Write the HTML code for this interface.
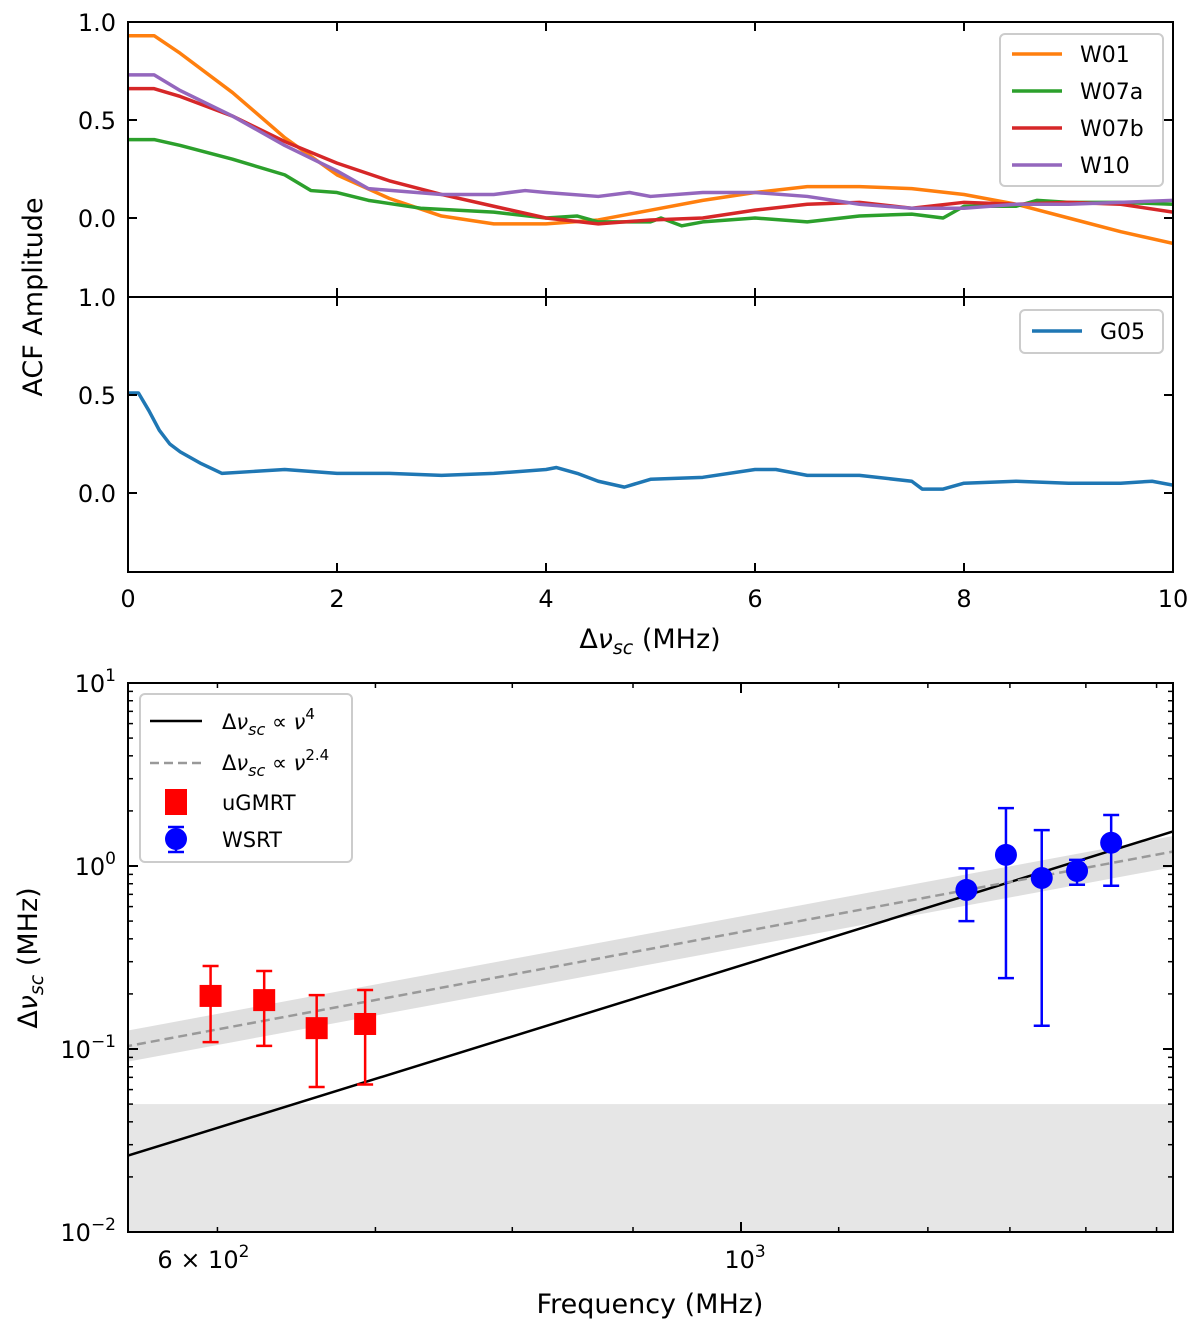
<!DOCTYPE html>
<html><head><meta charset="utf-8"><style>
body{margin:0;background:#fff;}
svg{display:block;font-family:"DejaVu Sans","Liberation Sans",sans-serif;}
</style></head><body>
<svg id="fig" width="1200" height="1327" viewBox="0 0 1200 1327"></svg>
<script>
// ---- data ----
const w01X=[0,0.25,0.5,1,1.5,2,2.5,3,3.5,4,4.5,5,5.5,6,6.5,7,7.5,8,8.5,9,9.5,10];
const w01Y=[0.93,0.93,0.84,0.64,0.41,0.22,0.10,0.01,-0.03,-0.03,-0.01,0.04,0.09,0.13,0.16,0.16,0.15,0.12,0.07,0.0,-0.07,-0.13];
const w07aX=[0,0.25,0.5,1,1.5,1.75,2,2.3,2.8,3.5,4,4.3,4.5,5,5.1,5.3,5.5,6,6.5,7,7.5,7.8,8,8.5,8.7,9,9.5,10];
const w07aY=[0.40,0.40,0.37,0.30,0.22,0.14,0.13,0.09,0.05,0.03,0.0,0.01,-0.02,-0.02,0.0,-0.04,-0.02,0.0,-0.02,0.01,0.02,0.0,0.06,0.06,0.09,0.08,0.08,0.07];
const w07bX=[0,0.25,0.5,1,1.5,2,2.5,3,3.5,4,4.5,5,5.5,6,6.5,7,7.5,8,8.5,9,9.5,10];
const w07bY=[0.66,0.66,0.62,0.52,0.39,0.28,0.19,0.12,0.06,0.0,-0.03,-0.01,0.0,0.04,0.07,0.08,0.05,0.08,0.07,0.08,0.07,0.03];
const w10X=[0,0.25,0.5,1,1.5,2,2.3,3,3.5,3.8,4,4.5,4.8,5,5.5,6,6.5,7,7.5,8,8.5,9,9.5,10];
const w10Y=[0.73,0.73,0.65,0.52,0.37,0.24,0.15,0.12,0.12,0.14,0.13,0.11,0.13,0.11,0.13,0.13,0.11,0.07,0.05,0.05,0.07,0.07,0.08,0.09];
const g05X=[0,0.1,0.2,0.3,0.4,0.5,0.7,0.9,1.2,1.5,2,2.5,3,3.5,4,4.1,4.3,4.5,4.75,5,5.5,6,6.2,6.5,7,7.5,7.6,7.8,8,8.5,9,9.5,9.8,10];
const g05Y=[0.51,0.51,0.42,0.32,0.25,0.21,0.15,0.10,0.11,0.12,0.10,0.10,0.09,0.10,0.12,0.13,0.10,0.06,0.03,0.07,0.08,0.12,0.12,0.09,0.09,0.06,0.02,0.02,0.05,0.06,0.05,0.05,0.06,0.04];
const gmrtF=[596,628,661,693];
const gmrtV=[0.195,0.185,0.130,0.137];
const gmrtHi=[0.284,0.267,0.197,0.21];
const gmrtLo=[0.109,0.104,0.062,0.064];
const wsrtF=[1246,1295,1341,1388,1435];
const wsrtV=[0.74,1.15,0.86,0.94,1.34];
const wsrtHi=[0.97,2.07,1.57,1.08,1.9];
const wsrtLo=[0.50,0.244,0.134,0.79,0.78];
const linTicks=[0,2,4,6,8,10];
const yTicksTop=[0.0,0.5,1.0];
const fit4Norm=0.286, fit4Pow=4;
const fit24Norm=0.436, fit24Pow=2.4;
const bandDex=0.085;
const limitV=0.05;

const NS="http://www.w3.org/2000/svg";
const svg=document.getElementById('fig');
function el(tag,attrs,parent){const e=document.createElementNS(NS,tag);for(const k in attrs)e.setAttribute(k,attrs[k]);(parent||svg).appendChild(e);return e;}
function txt(s,x,y,size,anchor,parent){const t=el('text',{x:x,y:y,'font-size':size,'text-anchor':anchor||'middle',fill:'#000'},parent);t.innerHTML=s;return t;}

const L=128,R=1173;
const xs=v=>L+(v/10)*(R-L);
const yTop=v=>218-v*196;
const yMid=v=>493-v*196;
const xf=f=>741+(Math.log10(f)-3)*2360;
const yl=v=>866-Math.log10(v)*183;

function poly(X,Y,ys,color,name){
  const p=el('polyline',{points:X.map((x,i)=>xs(x)+','+ys(Y[i])).join(' '),fill:'none',stroke:color,'stroke-width':3.5,'stroke-linejoin':'round'});
  
  
}
// clip paths
const defs=el('defs',{});
const c1=el('clipPath',{id:'c1'},defs);el('rect',{x:L,y:22,width:R-L,height:275},c1);
const c2=el('clipPath',{id:'c2'},defs);el('rect',{x:L,y:297,width:R-L,height:275},c2);
const c3=el('clipPath',{id:'c3'},defs);el('rect',{x:L,y:683,width:R-L,height:549},c3);

// ---- top panel ----
const gTop=el('g',{'clip-path':'url(#c1)'});

[[w01X,w01Y,'#ff7f0e','line-w01'],[w07aX,w07aY,'#2ca02c','line-w07a'],[w07bX,w07bY,'#d62728','line-w07b'],[w10X,w10Y,'#9467bd','line-w10']].forEach(s=>{
  const p=el('polyline',{points:s[0].map((x,i)=>xs(x)+','+yTop(s[1][i])).join(' '),fill:'none',stroke:s[2],'stroke-width':3.5,'stroke-linejoin':'round'},gTop);
  
  
});
const gMid=el('g',{'clip-path':'url(#c2)'});
const pg=el('polyline',{points:g05X.map((x,i)=>xs(x)+','+yMid(g05Y[i])).join(' '),fill:'none',stroke:'#1f77b4','stroke-width':3.5,'stroke-linejoin':'round'},gMid);



// frames & ticks for linear panels
function linFrame(top,bot,ys,name,showX){
  const r=el('rect',{x:L,y:top,width:R-L,height:bot-top,fill:'none',stroke:'#000','stroke-width':2});
  
  
  linTicks.forEach(t=>{
    el('line',{x1:xs(t),x2:xs(t),y1:bot,y2:bot-9,stroke:'#000','stroke-width':2});
    el('line',{x1:xs(t),x2:xs(t),y1:top,y2:top+9,stroke:'#000','stroke-width':2});
    if(showX){const lb=txt(String(t),xs(t),bot+35,24);}
  });
  yTicksTop.forEach(t=>{
    el('line',{x1:L,x2:L+9,y1:ys(t),y2:ys(t),stroke:'#000','stroke-width':2});
    el('line',{x1:R,x2:R-9,y1:ys(t),y2:ys(t),stroke:'#000','stroke-width':2});
    const lb=txt(t.toFixed(1),L-12,ys(t)+9,24,'end');
    
    
  });
}
linFrame(22,297,yTop,'top-panel-frame',false);
linFrame(297,572,yMid,'middle-panel-frame',true);

const yl1=txt('ACF Amplitude',0,0,27);
yl1.setAttribute('transform','translate(42,297) rotate(-90)');

const xl1=txt('Δ<tspan font-style="italic">ν</tspan><tspan font-style="italic" font-size="19" dy="6">sc</tspan><tspan dy="-6"> (MHz)</tspan>',650,648,27);


// legends
function legendBox(x,y,w,h,name){const r=el('rect',{x:x,y:y,width:w,height:h,rx:5,fill:'#fff','fill-opacity':0.8,stroke:'#ccc','stroke-width':2});}
legendBox(1000,34,163,152,'top-legend');
[['W01','#ff7f0e',54],['W07a','#2ca02c',91],['W07b','#d62728',128],['W10','#9467bd',165]].forEach(e=>{
  el('line',{x1:1012,x2:1062,y1:e[2],y2:e[2],stroke:e[1],'stroke-width':3.5});
  const t=txt(e[0],1080,e[2]+8,22,'start');
});
legendBox(1020,310,143,43,'middle-legend');
el('line',{x1:1032,x2:1082,y1:331,y2:331,stroke:'#1f77b4','stroke-width':3.5});
const tg=txt('G05',1100,339,22,'start');

// ---- bottom panel ----
const g3=el('g',{'clip-path':'url(#c3)'});
const fmin=540,fmax=1540;
const lim=el('rect',{x:L,y:yl(limitV),width:R-L,height:1232-yl(limitV),fill:'#e6e6e6'},g3);

const bandPts=[];
for(let i=0;i<=20;i++){const f=fmin*Math.pow(fmax/fmin,i/20);bandPts.push(xf(f)+','+yl(fit24Norm*Math.pow(f/1000,fit24Pow)*Math.pow(10,bandDex)));}
for(let i=20;i>=0;i--){const f=fmin*Math.pow(fmax/fmin,i/20);bandPts.push(xf(f)+','+yl(fit24Norm*Math.pow(f/1000,fit24Pow)/Math.pow(10,bandDex)));}
const band=el('polygon',{points:bandPts.join(' '),fill:'#d9d9d9','fill-opacity':0.85},g3);

const l4=el('line',{x1:xf(fmin),y1:yl(fit4Norm*Math.pow(fmin/1000,fit4Pow)),x2:xf(fmax),y2:yl(fit4Norm*Math.pow(fmax/1000,fit4Pow)),stroke:'#000','stroke-width':2.5},g3);

const l24=el('line',{x1:xf(fmin),y1:yl(fit24Norm*Math.pow(fmin/1000,fit24Pow)),x2:xf(fmax),y2:yl(fit24Norm*Math.pow(fmax/1000,fit24Pow)),stroke:'#999','stroke-width':2.5,'stroke-dasharray':'9,5'},g3);

function errbar(x,yv,hi,lo,color){
  el('line',{x1:x,x2:x,y1:yl(hi),y2:yl(lo),stroke:color,'stroke-width':2.5},g3);
  el('line',{x1:x-8,x2:x+8,y1:yl(hi),y2:yl(hi),stroke:color,'stroke-width':2.5},g3);
  el('line',{x1:x-8,x2:x+8,y1:yl(lo),y2:yl(lo),stroke:color,'stroke-width':2.5},g3);
}
gmrtF.forEach((f,i)=>{
  const x=xf(f);errbar(x,gmrtV[i],gmrtHi[i],gmrtLo[i],'#ff0000');
  const m=el('rect',{x:x-11,y:yl(gmrtV[i])-11,width:22,height:22,fill:'#ff0000'},g3);
  
});
wsrtF.forEach((f,i)=>{
  const x=xf(f);errbar(x,wsrtV[i],wsrtHi[i],wsrtLo[i],'#0000ff');
  const m=el('circle',{cx:x,cy:yl(wsrtV[i]),r:11,fill:'#0000ff'},g3);
  
});
const fr3=el('rect',{x:L,y:683,width:R-L,height:549,fill:'none',stroke:'#000','stroke-width':2});

// log y ticks
for(let d=-2;d<=1;d++){
  const y=yl(Math.pow(10,d));
  el('line',{x1:L,x2:L+10,y1:y,y2:y,stroke:'#000','stroke-width':2});
  el('line',{x1:R,x2:R-10,y1:y,y2:y,stroke:'#000','stroke-width':2});
  const lb=txt('10<tspan font-size="17" dy="-11">'+(d<0?'−'+(-d):d)+'</tspan>',L-12,y+9,24,'end');
  
  if(d<1)for(let k=2;k<=9;k++){const ym=yl(k*Math.pow(10,d));
    el('line',{x1:L,x2:L+5,y1:ym,y2:ym,stroke:'#000','stroke-width':1.5});
    el('line',{x1:R,x2:R-5,y1:ym,y2:ym,stroke:'#000','stroke-width':1.5});}
}
// log x ticks
[600,700,800,900,1000,1100,1200,1300,1400,1500].forEach(f=>{
  const x=xf(f);const major=(f===1000);const len=major?10:5;
  el('line',{x1:x,x2:x,y1:1232,y2:1232-len,stroke:'#000','stroke-width':major?2:1.5});
  el('line',{x1:x,x2:x,y1:683,y2:683+len,stroke:'#000','stroke-width':major?2:1.5});
});
const xt1=txt('6 × 10<tspan font-size="17" dy="-11">2</tspan>',xf(600)-14,1268,24);
const xt2=txt('10<tspan font-size="17" dy="-11">3</tspan>',xf(1000)+4,1268,24);
const xl3=txt('Frequency (MHz)',650,1313,27);
const yl3=txt('Δ<tspan font-style="italic">ν</tspan><tspan font-style="italic" font-size="19" dy="6">sc</tspan><tspan dy="-6"> (MHz)</tspan>',0,0,27);
yl3.setAttribute('transform','translate(37,958) rotate(-90)');
// bottom legend
legendBox(140,694,212,168,'bottom-legend');
el('line',{x1:150,x2:202,y1:721,y2:721,stroke:'#000','stroke-width':2.5});
el('line',{x1:150,x2:202,y1:763,y2:763,stroke:'#999','stroke-width':2.5,'stroke-dasharray':'9,5'});
el('rect',{x:165,y:789,width:22,height:26,fill:'#ff0000'});
el('line',{x1:176,x2:176,y1:827,y2:852,stroke:'#0000ff','stroke-width':2.5});
el('line',{x1:168,x2:184,y1:827,y2:827,stroke:'#0000ff','stroke-width':2.5});
el('line',{x1:168,x2:184,y1:852,y2:852,stroke:'#0000ff','stroke-width':2.5});
el('circle',{cx:176,cy:839,r:11,fill:'#0000ff'});
const sup='<tspan font-style="italic" font-size="16" dy="6">sc</tspan><tspan dy="-6"> ∝ </tspan><tspan font-style="italic">ν</tspan>';
[['Δ<tspan font-style="italic">ν</tspan>'+sup+'<tspan font-size="15" dy="-10">4</tspan>',729],['Δ<tspan font-style="italic">ν</tspan>'+sup+'<tspan font-size="15" dy="-10">2.4</tspan>',770],['uGMRT',810],['WSRT',847]].forEach(e=>{
  const t=txt(e[0],222,e[1],21,'start');
});
</script>
</body></html>
